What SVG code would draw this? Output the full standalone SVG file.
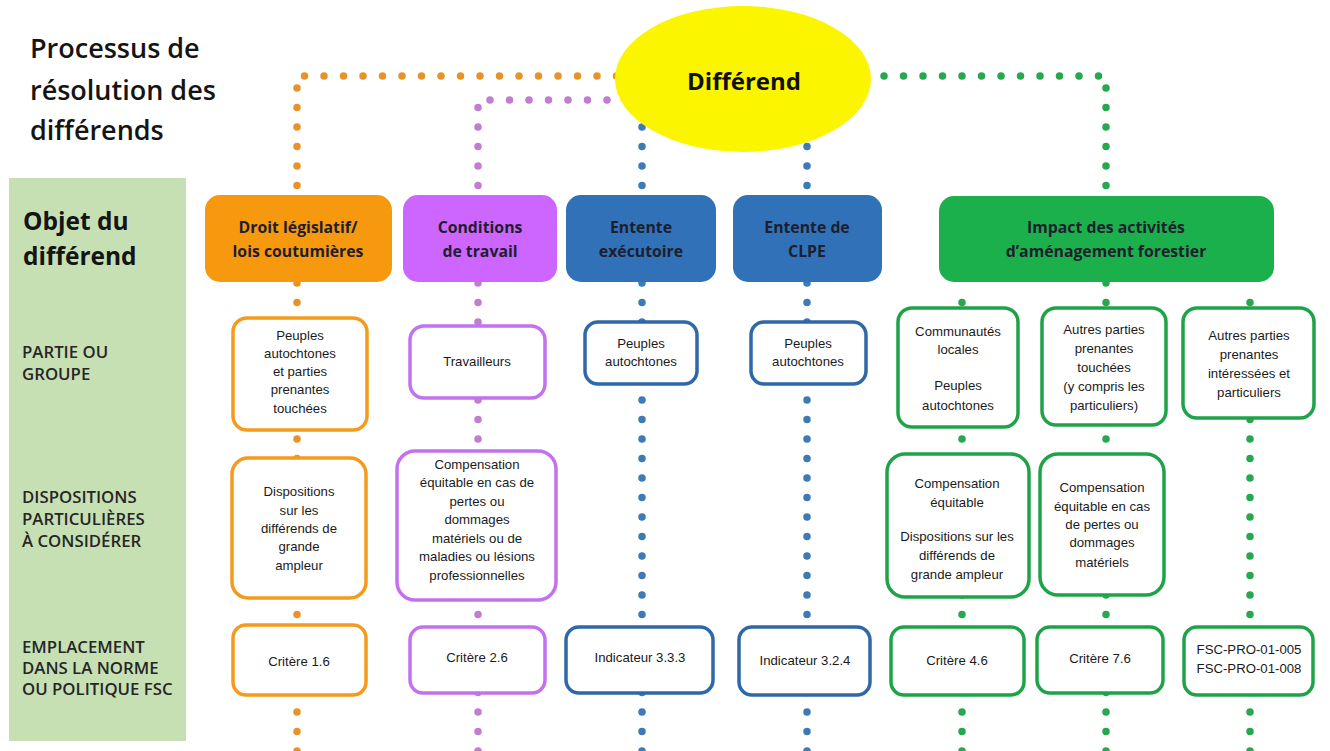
<svg xmlns="http://www.w3.org/2000/svg" width="1330" height="751" viewBox="0 0 1330 751">
<style>
.dot{fill:none;stroke-width:7.5;stroke-linecap:round;stroke-dasharray:0 19.5}
.do{stroke:#e8932a}.dp{stroke:#c17dd0}.db{stroke:#3d7ab8}.dg{stroke:#27a84f}
.title{font-family:"Open Sans","Liberation Sans",sans-serif;font-weight:600;font-size:27px;fill:#141414}
.obj{font-family:"Open Sans","Liberation Sans",sans-serif;font-weight:700;font-size:24.5px;fill:#141414}
.lab{font-family:"Open Sans","Liberation Sans",sans-serif;font-weight:600;font-size:16.8px;fill:#262626}
.hd{font-family:"Open Sans","Liberation Sans",sans-serif;font-weight:700;font-size:15.8px;fill:#1e1e2e;text-anchor:middle}
.tx{font-family:"Liberation Sans",Arial,sans-serif;font-size:13.2px;fill:#1a1a1a;text-anchor:middle}
.bo{fill:#fff;stroke:#f49a1d;stroke-width:3.5}
.bp{fill:#fff;stroke:#c371ef;stroke-width:3.5}
.bb{fill:#fff;stroke:#2f68a8;stroke-width:3.5}
.bg{fill:#fff;stroke:#1fa349;stroke-width:3.5}
</style>
<rect width="1330" height="751" fill="#fff"/>
<g id="title">
<text class="title" x="30" y="58">Processus de</text>
<text class="title" x="30" y="100">résolution des</text>
<text class="title" x="30" y="140">différends</text>
</g>
<g id="side-panel">
<rect x="9" y="178" width="177" height="563" fill="#c6e0b4"/>
<text class="obj" x="23" y="230">Objet du</text>
<text class="obj" x="23" y="265">différend</text>
<text class="lab" x="22" y="358">PARTIE OU</text>
<text class="lab" x="22" y="380">GROUPE</text>
<text class="lab" x="22" y="503">DISPOSITIONS</text>
<text class="lab" x="22" y="525">PARTICULIÈRES</text>
<text class="lab" x="22" y="547">À CONSIDÉRER</text>
<text class="lab" x="22" y="653">EMPLACEMENT</text>
<text class="lab" x="22" y="674">DANS LA NORME</text>
<text class="lab" x="22" y="695">OU POLITIQUE FSC</text>
</g>
<g id="connectors">
<path class="dot do" d="M297 751 V76 H630"/>
<path class="dot dp" d="M478 751 V100 H640"/>
<path class="dot db" d="M642 751 V118"/>
<path class="dot db" d="M807 751 V118"/>
<path class="dot dg" d="M1106 751 V76 H860"/>
<path class="dot dg" d="M962 751 V285"/>
<path class="dot dg" d="M1250 751 V285"/>
</g>
<g id="differend">
<ellipse cx="743" cy="79" rx="128" ry="73" fill="#fcf500"/>
<text x="744" y="90" font-family="Open Sans, Liberation Sans, sans-serif" font-weight="700" font-size="24" fill="#111" text-anchor="middle">Différend</text>
</g>
<g id="h-droit">
<rect x="205" y="195" width="187" height="87" rx="15" fill="#f7990e"/>
<text class="hd" x="298" y="233">Droit législatif/</text>
<text class="hd" x="298" y="257">lois coutumières</text>
</g>
<g id="h-conditions">
<rect x="403" y="195" width="154" height="87" rx="15" fill="#cc66ff"/>
<text class="hd" x="480" y="233">Conditions</text>
<text class="hd" x="480" y="257">de travail</text>
</g>
<g id="h-entente-exec">
<rect x="566" y="195" width="150" height="87" rx="15" fill="#3071b8"/>
<text class="hd" x="641" y="233">Entente</text>
<text class="hd" x="641" y="257">exécutoire</text>
</g>
<g id="h-entente-clpe">
<rect x="733" y="195" width="149" height="87" rx="15" fill="#3071b8"/>
<text class="hd" x="807" y="233">Entente de</text>
<text class="hd" x="807" y="257">CLPE</text>
</g>
<g id="h-impact">
<rect x="939" y="196" width="335" height="86" rx="15" fill="#1cb04c"/>
<text class="hd" x="1106" y="233">Impact des activités</text>
<text class="hd" x="1106" y="257">d’aménagement forestier</text>
</g>
<g id="p-orange">
<rect class="bo" x="233" y="318" width="134" height="112" rx="14"/>
<text class="tx" x="300" y="340">Peuples</text>
<text class="tx" x="300" y="358">autochtones</text>
<text class="tx" x="300" y="376">et parties</text>
<text class="tx" x="300" y="394">prenantes</text>
<text class="tx" x="300" y="413">touchées</text>
</g>
<g id="p-purple">
<rect class="bp" x="410" y="326" width="135" height="72" rx="14"/>
<text class="tx" x="477" y="366">Travailleurs</text>
</g>
<g id="p-blue1">
<rect class="bb" x="585" y="322" width="112" height="62" rx="13"/>
<text class="tx" x="641" y="348">Peuples</text>
<text class="tx" x="641" y="366">autochtones</text>
</g>
<g id="p-blue2">
<rect class="bb" x="751" y="322" width="115" height="62" rx="13"/>
<text class="tx" x="808" y="348">Peuples</text>
<text class="tx" x="808" y="366">autochtones</text>
</g>
<g id="p-green1">
<rect class="bg" x="898" y="308" width="120" height="119" rx="14"/>
<text class="tx" x="958" y="336">Communautés</text>
<text class="tx" x="958" y="354">locales</text>
<text class="tx" x="958" y="390">Peuples</text>
<text class="tx" x="958" y="410">autochtones</text>
</g>
<g id="p-green2">
<rect class="bg" x="1042" y="308" width="124" height="117" rx="14"/>
<text class="tx" x="1104" y="334">Autres parties</text>
<text class="tx" x="1104" y="353">prenantes</text>
<text class="tx" x="1104" y="372">touchées</text>
<text class="tx" x="1104" y="391">(y compris les</text>
<text class="tx" x="1104" y="410">particuliers)</text>
</g>
<g id="p-green3">
<rect class="bg" x="1183" y="308" width="131" height="110" rx="14"/>
<text class="tx" x="1249" y="340">Autres parties</text>
<text class="tx" x="1249" y="359">prenantes</text>
<text class="tx" x="1249" y="378">intéressées et</text>
<text class="tx" x="1249" y="397">particuliers</text>
</g>
<g id="d-orange">
<rect class="bo" x="232" y="458" width="134" height="140" rx="16"/>
<text class="tx" x="299" y="496">Dispositions</text>
<text class="tx" x="299" y="515">sur les</text>
<text class="tx" x="299" y="533">différends de</text>
<text class="tx" x="299" y="551">grande</text>
<text class="tx" x="299" y="570">ampleur</text>
</g>
<g id="d-purple">
<rect class="bp" x="397" y="451" width="159" height="149" rx="18"/>
<text class="tx" x="477" y="469">Compensation</text>
<text class="tx" x="477" y="487">équitable en cas de</text>
<text class="tx" x="477" y="506">pertes ou</text>
<text class="tx" x="477" y="524">dommages</text>
<text class="tx" x="477" y="543">matériels ou de</text>
<text class="tx" x="477" y="561">maladies ou lésions</text>
<text class="tx" x="477" y="580">professionnelles</text>
</g>
<g id="d-green1">
<rect class="bg" x="887" y="454" width="142" height="143" rx="18"/>
<text class="tx" x="957" y="488">Compensation</text>
<text class="tx" x="957" y="507">équitable</text>
<text class="tx" x="957" y="541">Dispositions sur les</text>
<text class="tx" x="957" y="560">différends de</text>
<text class="tx" x="957" y="579">grande ampleur</text>
</g>
<g id="d-green2">
<rect class="bg" x="1040" y="454" width="124" height="141" rx="18"/>
<text class="tx" x="1102" y="492">Compensation</text>
<text class="tx" x="1102" y="511">équitable en cas</text>
<text class="tx" x="1102" y="529">de pertes ou</text>
<text class="tx" x="1102" y="547">dommages</text>
<text class="tx" x="1102" y="567">matériels</text>
</g>
<g id="e-orange">
<rect class="bo" x="233" y="625" width="133" height="70" rx="13"/>
<text class="tx" x="299" y="666">Critère 1.6</text>
</g>
<g id="e-purple">
<rect class="bp" x="410" y="627" width="135" height="66" rx="13"/>
<text class="tx" x="477" y="662">Critère 2.6</text>
</g>
<g id="e-blue1">
<rect class="bb" x="566" y="627" width="147" height="66" rx="13"/>
<text class="tx" x="640" y="662">Indicateur 3.3.3</text>
</g>
<g id="e-blue2">
<rect class="bb" x="739" y="627" width="131" height="68" rx="13"/>
<text class="tx" x="805" y="665">Indicateur 3.2.4</text>
</g>
<g id="e-green1">
<rect class="bg" x="891" y="627" width="133" height="68" rx="13"/>
<text class="tx" x="957" y="665">Critère 4.6</text>
</g>
<g id="e-green2">
<rect class="bg" x="1037" y="627" width="126" height="66" rx="13"/>
<text class="tx" x="1100" y="663">Critère 7.6</text>
</g>
<g id="e-green3">
<rect class="bg" x="1184" y="627" width="129" height="68" rx="13"/>
<text class="tx" x="1249" y="654">FSC-PRO-01-005</text>
<text class="tx" x="1249" y="673">FSC-PRO-01-008</text>
</g>
</svg>
